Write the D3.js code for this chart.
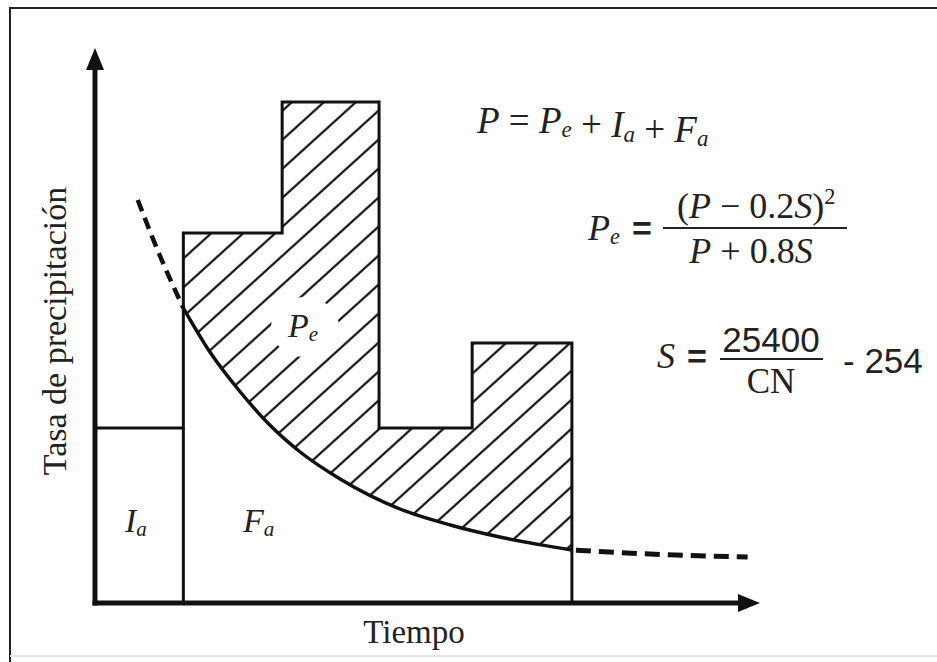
<!DOCTYPE html>
<html><head><meta charset="utf-8">
<script src="https://cdn.jsdelivr.net/npm/d3@7"></script>
<style>body{margin:0;background:#fff} svg{display:block}</style>
</head><body>
<script>
// Step hyetograph: block edges (time) and rainfall rate of each block
const barEdges = [0, 0.93, 1.97, 2.99, 3.97, 5.02];
const barRates = [3.5, 7.4, 10.02, 3.5, 5.2];
// Continuing-abstraction curve, in three stretches (dashed head, solid, dashed tail)
const headTime = [0.45, 0.68, 0.93];
const headRate = [8.06, 6.96, 5.9];
const lossTime = [0.93, 1.21, 1.53, 1.84, 2.16, 2.58, 3.21, 3.74, 4.26, 5.02];
const lossRate = [5.9, 5.02, 4.22, 3.56, 3.02, 2.48, 1.88, 1.56, 1.32, 1.06];
const tailTime = [5.02, 5.95, 6.87];
const tailRate = [1.06, 0.97, 0.92];
const axisTitles = ["Tiempo", "Tasa de precipitación"];

const W = 937, H = 662;
const serif = "'Liberation Serif', 'Times New Roman', serif";
const sans = "'Liberation Sans', Arial, sans-serif";

const svg = d3.select("body").append("svg").attr("width", W).attr("height", H);
svg.append("rect").attr("width", W).attr("height", H).attr("fill", "#fff");

// outer frame
svg.append("path").attr("d", `M10,${H}V8H${W}`).attr("fill", "none")
  .attr("stroke", "#222").attr("stroke-width", 2);
svg.append("line").attr("x1", 10).attr("x2", W).attr("y1", 656).attr("y2", 656)
  .attr("stroke", "#e6e6e6").attr("stroke-width", 2);

const x = d3.scaleLinear().domain([0, 7]).range([95, 760]);
const y = d3.scaleLinear().domain([0, 11]).range([603, 53]);

const defs = svg.append("defs");
// diagonal hatching
const hw = 32, hh = 29;
const pat = defs.append("pattern").attr("id", "hatch")
  .attr("patternUnits", "userSpaceOnUse").attr("width", hw).attr("height", hh)
  .attr("patternTransform", "translate(20.6,0)");
pat.append("path")
  .attr("d", `M0,${hh}L${hw},0M${-hw/2},${hh/2}L${hw/2},${-hh/2}M${hw/2},${hh*1.5}L${hw*1.5},${hh/2}`)
  .attr("stroke", "#111").attr("stroke-width", 2.2);

// clip: blocks after the initial abstraction
const blocks = barRates.map((r, i) => ({x0: barEdges[i], x1: barEdges[i+1], r}));
const clipBars = defs.append("clipPath").attr("id", "clipBars");
clipBars.selectAll("rect").data(blocks.slice(1)).join("rect")
  .attr("x", d => x(d.x0)).attr("width", d => x(d.x1) - x(d.x0))
  .attr("y", d => y(d.r)).attr("height", d => y(0) - y(d.r));

// clip: area above the loss curve
const lossPts = lossTime.map((t, i) => [t, lossRate[i]]);
const above = d3.area().x(d => x(d[0])).y0(0).y1(d => y(d[1])).curve(d3.curveMonotoneX);
defs.append("clipPath").attr("id", "clipAbove").append("path").attr("d", above(lossPts));

const hatchG = svg.append("g").attr("clip-path", "url(#clipBars)")
  .append("g").attr("clip-path", "url(#clipAbove)");
hatchG.append("rect").attr("x", x(0)).attr("y", 0).attr("width", x(6) - x(0)).attr("height", y(0))
  .attr("fill", "url(#hatch)");
// clear space behind the P_e label
hatchG.append("ellipse").attr("cx", 305).attr("cy", 327).attr("rx", 34).attr("ry", 30).attr("fill", "#fff");

// block outline
const stepPts = blocks.map(d => [d.x0, d.r]).concat([[barEdges[barEdges.length-1], barRates[barRates.length-1]]]);
const stepLine = d3.line().x(d => x(d[0])).y(d => y(d[1])).curve(d3.curveStepAfter);
svg.append("path").attr("d", stepLine(stepPts) + `V${y(0)}`)
  .attr("fill", "none").attr("stroke", "#111").attr("stroke-width", 3);
svg.append("line").attr("x1", x(barEdges[1])).attr("x2", x(barEdges[1]))
  .attr("y1", y(0)).attr("y2", y(barRates[0]))
  .attr("stroke", "#111").attr("stroke-width", 3);

// loss curve
const cLine = d3.line().x(d => x(d[0])).y(d => y(d[1])).curve(d3.curveMonotoneX);
svg.append("path").attr("d", cLine(lossPts)).attr("fill", "none")
  .attr("stroke", "#111").attr("stroke-width", 3.5);
svg.append("path").attr("d", cLine(headTime.map((t, i) => [t, headRate[i]])))
  .attr("fill", "none").attr("stroke", "#111").attr("stroke-width", 4.5)
  .attr("stroke-dasharray", "12,7");
svg.append("path").attr("d", cLine(tailTime.map((t, i) => [t, tailRate[i]])))
  .attr("fill", "none").attr("stroke", "#111").attr("stroke-width", 5)
  .attr("stroke-dasharray", "15,8").attr("stroke-dashoffset", -4);

// axes without ticks, ending in arrowheads
const ax = svg.append("g").attr("transform", `translate(0,${y(0)})`)
  .call(d3.axisBottom(x).tickValues([]).tickSizeOuter(0));
ax.select(".domain").attr("stroke", "#111").attr("stroke-width", 5)
  .attr("d", `M${x(0) - 2.5},0H${x(7) - 12}`);
const ay = svg.append("g").attr("transform", `translate(${x(0)},0)`)
  .call(d3.axisLeft(y).tickValues([]).tickSizeOuter(0));
ay.select(".domain").attr("stroke", "#111").attr("stroke-width", 5)
  .attr("d", `M0,${y(0) + 2.5}V${y(11) + 12}`);
svg.append("path").attr("fill", "#111")
  .attr("d", `M${x(7)},${y(0)}L${x(7) - 22},${y(0) - 9}L${x(7) - 22},${y(0) + 9}Z`);
svg.append("path").attr("fill", "#111")
  .attr("d", `M${x(0)},${y(11.1)}L${x(0) - 9},${y(11.1) + 22}L${x(0) + 9},${y(11.1) + 22}Z`);

// axis titles
svg.append("text").attr("x", 414).attr("y", 643).attr("text-anchor", "middle")
  .attr("font-family", serif).attr("font-size", 33).attr("fill", "#222").text(axisTitles[0]);
svg.append("text").attr("transform", "translate(66,331) rotate(-90)").attr("text-anchor", "middle")
  .attr("font-family", serif).attr("font-size", 34).attr("fill", "#222").text(axisTitles[1]);

// helper: italic symbol with subscript
function sym(t, base, sub, size) {
  t.append("tspan").attr("font-style", "italic").text(base);
  t.append("tspan").attr("font-style", "italic").attr("font-size", size * 0.62)
    .attr("dy", size * 0.12).text(sub);
  t.append("tspan").attr("dy", -size * 0.12).text("");
}

// region labels
[[125, 532, "I", "a"], [243, 532, "F", "a"], [288, 337, "P", "e"]].forEach(([lx, ly, b, s]) => {
  const t = svg.append("text").attr("x", lx).attr("y", ly)
    .attr("font-family", serif).attr("font-size", 34).attr("fill", "#222");
  sym(t, b, s, 34);
});

// equation 1
{
  const fs = 37;
  const t = svg.append("text").attr("x", 477).attr("y", 133)
    .attr("font-family", serif).attr("font-size", fs).attr("fill", "#222");
  t.append("tspan").attr("font-style", "italic").text("P");
  t.append("tspan").text(" = ");
  sym(t, "P", "e", fs);
  t.append("tspan").text(" + ");
  sym(t, "I", "a", fs);
  t.append("tspan").text(" + ");
  sym(t, "F", "a", fs);
}

// equation 2
{
  const fs = 36;
  const t = svg.append("text").attr("x", 588).attr("y", 240)
    .attr("font-family", serif).attr("font-size", fs).attr("fill", "#222");
  sym(t, "P", "e", fs);
  svg.append("text").attr("x", 632).attr("y", 240).attr("font-family", sans).attr("font-size", 34)
    .attr("font-weight", "bold").attr("fill", "#222").text("=");
  svg.append("line").attr("x1", 663).attr("x2", 847).attr("y1", 228).attr("y2", 228)
    .attr("stroke", "#222").attr("stroke-width", 2);
  const n = svg.append("text").attr("x", 677).attr("y", 218)
    .attr("font-family", serif).attr("font-size", fs).attr("fill", "#222");
  n.append("tspan").text("(");
  n.append("tspan").attr("font-style", "italic").text("P");
  n.append("tspan").text(" − 0.2");
  n.append("tspan").attr("font-style", "italic").text("S");
  n.append("tspan").text(")");
  n.append("tspan").attr("font-size", fs * 0.62).attr("dy", -fs * 0.4).text("2");
  const dnm = svg.append("text").attr("x", 751).attr("y", 263).attr("text-anchor", "middle")
    .attr("font-family", serif).attr("font-size", fs).attr("fill", "#222");
  dnm.append("tspan").attr("font-style", "italic").text("P");
  dnm.append("tspan").text(" + 0.8");
  dnm.append("tspan").attr("font-style", "italic").text("S");
}

// equation 3
{
  svg.append("text").attr("x", 657).attr("y", 368).attr("font-family", serif)
    .attr("font-size", 36).attr("font-style", "italic").attr("fill", "#222").text("S");
  svg.append("text").attr("x", 687).attr("y", 368).attr("font-family", sans).attr("font-size", 34)
    .attr("font-weight", "bold").attr("fill", "#222").text("=");
  svg.append("line").attr("x1", 720).attr("x2", 823).attr("y1", 359).attr("y2", 359)
    .attr("stroke", "#222").attr("stroke-width", 2);
  svg.append("text").attr("x", 771).attr("y", 352).attr("text-anchor", "middle")
    .attr("font-family", sans).attr("font-size", 35).attr("fill", "#222").text("25400");
  svg.append("text").attr("x", 771).attr("y", 393).attr("text-anchor", "middle")
    .attr("font-family", serif).attr("font-size", 35).attr("fill", "#222").text("CN");
  svg.append("text").attr("x", 843).attr("y", 373)
    .attr("font-family", sans).attr("font-size", 35).attr("fill", "#222").text("- 254");
}
</script>
</body></html>
